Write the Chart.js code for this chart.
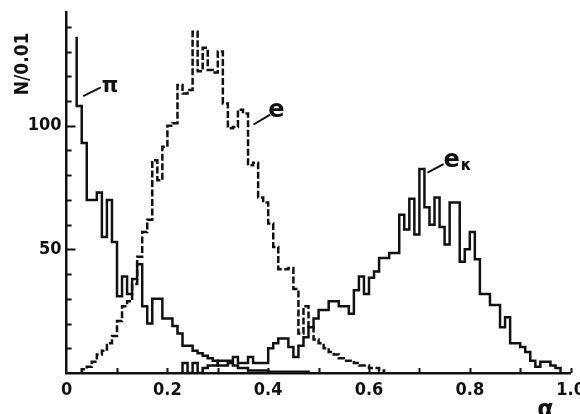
<!DOCTYPE html>
<html><head><meta charset="utf-8">
<script src="https://cdn.jsdelivr.net/npm/chart.js@4.4.1/dist/chart.umd.min.js"></script>
<style>html,body{margin:0;padding:0;background:#fff}#wrap{width:580px;height:414px}</style>
</head><body><div id="wrap"><canvas id="c" width="580" height="414"></canvas></div>
<script>
// ---- data (N per 0.01 bin in alpha) ----
const binWidth = 0.01;
const piStart = 0.02;
const piSpike = 136;
const piValues = [108, 93, 70, 70, 73, 55, 70, 53, 31, 39, 32, 38, 44, 27, 20, 30, 30, 22, 22, 19,
  16, 11, 11, 9, 8, 7, 6, 5, 3, 3, 4, 3, 2, 2, 1, 1, 1, 1, 0.5, 0.5, 0.5, 0.5, 0.5, 0.5, 0.5, 0.5];
const eStart = 0.03;
const eValues = [1.5, 2.5, 4.5, 7.5, 9, 12, 15, 21, 27, 29, 36, 47, 57, 62, 86, 78, 91.5, 100, 101, 116.5,
  113, 114.5, 138, 122, 131.5, 122.5, 121.5, 130, 109, 99, 99.5, 106.5, 105, 84, 85, 71, 69, 60.5, 51, 42,
  42, 42.5, 34, 16, 27, 18.5, 13.5, 12, 10, 8.5, 7.5, 6, 5, 5, 4, 3, 3, 2, 2, 1];
const ekStart = 0.23;
const ekValues = [4, 0, 4, 0, 2, 3, 3, 5, 5, 5, 6.5, 4, 4, 6.5, 4, 4, 4, 10, 12, 14,
  14, 10.5, 6.5, 11, 14.5, 18.5, 22, 25.5, 25.5, 29, 29, 27, 27, 24, 33.5, 39, 32, 38.5, 41, 46.5,
  46.5, 48.5, 48.5, 64, 58, 70.5, 56, 82.5, 67, 60, 71, 59, 52, 69, 69, 45, 50, 57, 46, 32,
  32, 27.5, 27.5, 18.5, 22.5, 12, 12, 10.5, 8.5, 5, 2.5, 4.5, 4.5, 3, 2];
const xTickLabels = ['0', '0.2', '0.4', '0.6', '0.8', '1.0'];
const yTickLabels = ['50', '100'];
const yAxisTitle = 'N/0.01';
const xAxisTitle = 'α';

// annotation anchors (data coordinates)
const notes = [
  {text: 'π', at: [0.086, 116], from: [0.033, 112], to: [0.068, 115.5], size: 21},
  {text: 'e', at: [0.416, 106], from: [0.371, 100.5], to: [0.404, 104.5], size: 24},
  {text: 'e', sub: 'κ', at: [0.764, 86], from: [0.716, 81], to: [0.748, 84.5], size: 24}
];

function stepPoints(start, values, first) {
  const pts = [{x: start, y: first}];
  values.forEach((v, i) => pts.push({x: +(start + i * binWidth).toFixed(4), y: v}));
  pts.push({x: +(start + values.length * binWidth).toFixed(4), y: 0});
  return pts;
}

const INK = '#111';
const FAM = '"DejaVu Sans Condensed", "DejaVu Sans", sans-serif';
const annot = {
  id: 'annot',
  afterDraw(chart) {
    const {ctx} = chart;
    const x = chart.scales.x, y = chart.scales.y;
    ctx.save();
    ctx.strokeStyle = INK; ctx.fillStyle = INK; ctx.lineCap = 'butt';
    ctx.lineWidth = 2;
    // inward tick marks
    for (let v = 10; v <= y.max; v += 10) {
      const py = Math.round(y.getPixelForValue(v)) + 0.5;
      const len = v % 50 === 0 ? 9 : 5;
      ctx.beginPath(); ctx.moveTo(x.left, py); ctx.lineTo(x.left + len, py); ctx.stroke();
    }
    x.ticks.forEach(t => {
      if (t.value <= 0) return;
      const px = Math.round(x.getPixelForValue(t.value)) + 0.5;
      ctx.beginPath(); ctx.moveTo(px, y.bottom); ctx.lineTo(px, y.bottom - 5); ctx.stroke();
    });
    // curve labels with leader lines
    ctx.lineWidth = 2;
    notes.forEach(n => {
      ctx.beginPath();
      ctx.moveTo(x.getPixelForValue(n.from[0]), y.getPixelForValue(n.from[1]));
      ctx.lineTo(x.getPixelForValue(n.to[0]), y.getPixelForValue(n.to[1]));
      ctx.stroke();
      const px = x.getPixelForValue(n.at[0]), py = y.getPixelForValue(n.at[1]);
      ctx.font = 'bold ' + n.size + 'px "DejaVu Sans"';
      ctx.textAlign = 'center'; ctx.textBaseline = 'middle';
      ctx.fillText(n.text, px, py);
      if (n.sub) {
        const w = ctx.measureText(n.text).width;
        ctx.font = 'bold ' + Math.round(n.size * 0.62) + 'px "DejaVu Sans"';
        ctx.textAlign = 'left';
        ctx.fillText(n.sub, px + w / 2 + 1, py + 6);
      }
    });
    // axis titles
    ctx.font = 'bold 19px ' + FAM;
    ctx.textAlign = 'center'; ctx.textBaseline = 'middle';
    ctx.save();
    ctx.translate(23, y.getPixelForValue(125));
    ctx.rotate(-Math.PI / 2);
    ctx.fillText(yAxisTitle, 0, 0);
    ctx.restore();
    ctx.font = 'bold 24px "DejaVu Sans"';
    ctx.fillText(xAxisTitle, x.getPixelForValue(0.95), y.bottom + 38);
    ctx.restore();
  }
};

const tickFont = {family: FAM, size: 18, weight: 'bold'};

new Chart(document.getElementById('c'), {
  type: 'line',
  data: {
    datasets: [
      {label: 'e', data: stepPoints(eStart, eValues, 0), borderDash: [7, 2.5]},
      {label: 'π', data: stepPoints(piStart, piValues, piSpike)},
      {label: 'eκ', data: stepPoints(ekStart, ekValues, 0)}
    ].map(d => Object.assign({
      stepped: 'before', borderColor: INK, borderWidth: 2.5, pointRadius: 0,
      fill: false, tension: 0, borderCapStyle: 'butt', borderJoinStyle: 'miter'
    }, d))
  },
  options: {
    responsive: false, animation: false, devicePixelRatio: 1,
    layout: {padding: {left: 0, right: 9.4, top: 12, bottom: 0}},
    plugins: {legend: {display: false}, tooltip: {enabled: false}},
    scales: {
      x: {
        type: 'linear', min: 0, max: 1,
        grid: {display: true, drawOnChartArea: false, drawTicks: false},
        border: {display: true, color: INK, width: 2.5},
        ticks: {
          stepSize: 0.1, autoSkip: false, maxRotation: 0, padding: 7, color: INK, font: tickFont,
          callback: v => { const k = Math.round(v * 10); return k % 2 === 0 ? xTickLabels[k / 2] : ''; }
        },
        afterFit: s => { s.height = 41; s.paddingLeft = 0; s.paddingRight = 0; }
      },
      y: {
        min: 0, max: 146,
        grid: {display: true, drawOnChartArea: false, drawTicks: false},
        border: {display: true, color: INK, width: 2.5},
        ticks: {
          stepSize: 10, autoSkip: false, padding: 5, color: INK, font: tickFont,
          callback: v => yTickLabels.includes(String(v)) ? String(v) : ''
        },
        afterFit: s => { s.width = 66.6; s.paddingTop = 0; s.paddingBottom = 0; }
      }
    }
  },
  plugins: [annot]
});
</script></body></html>
